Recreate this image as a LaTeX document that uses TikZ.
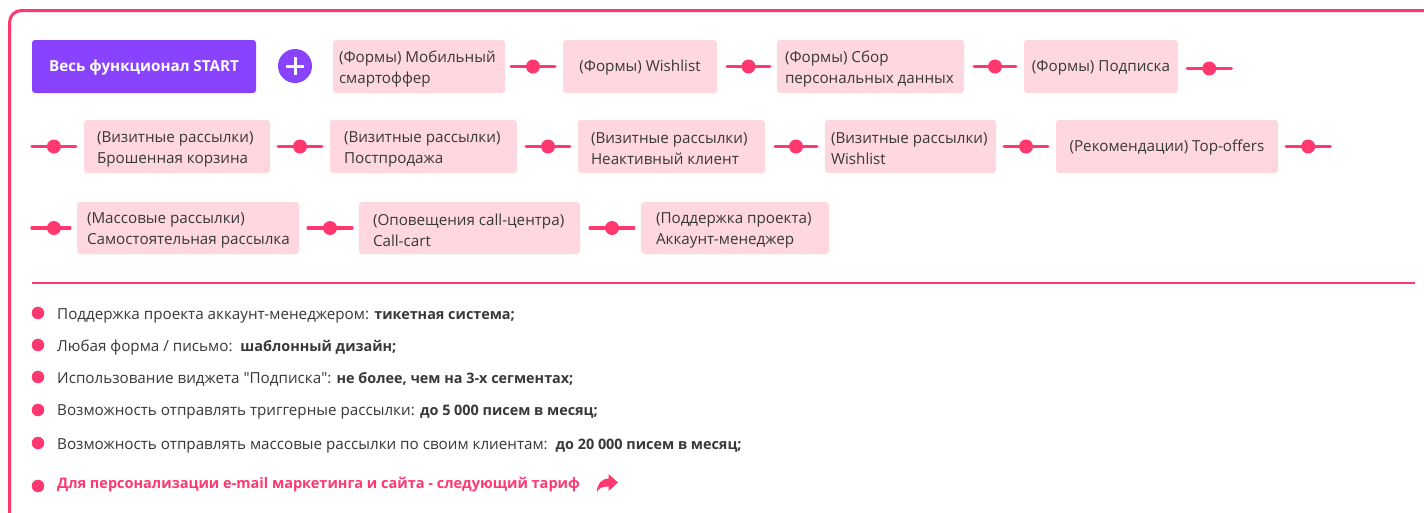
\documentclass[tikz,border=0pt]{standalone}
\usepackage{fontspec}
\setmainfont{Open Sans}
\definecolor{pinkline}{HTML}{FF3870}
\definecolor{boxfill}{HTML}{FFD7E1}
\definecolor{purp}{HTML}{8943FF}
\definecolor{txt}{HTML}{383838}
\newcommand{\bb}[1]{{\fontsize{14.4}{18}\selectfont\bfseries #1}}
\tikzset{
  card/.style={fill=boxfill, rounded corners=3pt, minimum height=53pt, inner sep=0pt},
  cardtext/.style={anchor=west, inner sep=0pt, text=txt, font=\fontsize{15.2}{21}\selectfont, align=left},
  connline/.style={draw=pinkline, line width=3.5pt, line cap=round},
  dotnode/.style={circle, fill=pinkline, minimum size=14pt, inner sep=0pt},
  bul/.style={circle, fill=pinkline, minimum size=12.5pt, inner sep=0pt},
  btext/.style={anchor=west, inner sep=0pt, text=txt, font=\fontsize{15.2}{18}\selectfont},
}
\begin{document}
\begin{tikzpicture}[x=1pt,y=-1pt]
\useasboundingbox (0,0) rectangle (1424,512);
\fill[white] (0,0) rectangle (1424,512);
% frame
\draw[pinkline, line width=3pt, rounded corners=12pt] (9.5,540) |- (1450,10.5);
% row 1
\node[fill=purp, rounded corners=3pt, minimum width=224pt, minimum height=53pt, inner sep=0pt] (start) at (144,66.5) {};
\node[inner sep=0pt, text=white, font=\fontsize{15.2}{18}\selectfont\bfseries] (startt) at ([yshift=-1.5pt]start.center) {Весь функционал START};
\node[circle, fill=purp, minimum size=34pt, inner sep=0pt] (plus) at (295,66) {};
\draw[white, line width=3pt] ([xshift=-9pt]plus.center) -- ([xshift=9pt]plus.center);
\draw[white, line width=3pt] ([yshift=-9pt]plus.center) -- ([yshift=9pt]plus.center);

\node[card, minimum width=172pt] (b1) at (419,66.5) {};
\node[cardtext] (b1t) at ([xshift=6pt,yshift=-2.5pt]b1.west) {(Формы) Мобильный\\смартоффер};
\node[card, minimum width=154pt] (b2) at (640,66.5) {};
\node[cardtext, anchor=center] (b2t) at ([yshift=-1.5pt]b2.center) {(Формы) Wishlist};
\node[card, minimum width=187pt] (b3) at (870.5,66.5) {};
\node[cardtext] (b3t) at ([xshift=8pt,yshift=-2.5pt]b3.west) {(Формы) Сбор\\персональных данных};
\node[card, minimum width=154pt] (b4) at (1101,66.5) {};
\node[cardtext, anchor=center] (b4t) at ([yshift=-1.5pt]b4.center) {(Формы) Подписка};

\draw[connline] ([xshift=6pt]b1.east) -- ([xshift=-8pt]b2.west) node[midway, dotnode] {};
\draw[connline] ([xshift=10pt]b2.east) -- ([xshift=-7pt]b3.west) node[midway, dotnode] {};
\draw[connline] ([xshift=10pt]b3.east) -- ([xshift=-8pt]b4.west) node[midway, dotnode] {};
\coordinate (e1) at ([xshift=53pt,yshift=-2pt]b4.east);
\draw[connline] ([xshift=9pt,yshift=-2pt]b4.east) -- (e1) node[midway, dotnode] {};

% row 2
\node[card, minimum width=186pt] (b5) at (177,146.5) {};
\node[cardtext] (b5t) at ([xshift=13pt,yshift=-2.5pt]b5.west) {(Визитные рассылки)\\Брошенная корзина};
\node[card, minimum width=187pt] (b6) at (423.5,146.5) {};
\node[cardtext] (b6t) at ([xshift=14pt,yshift=-2.5pt]b6.west) {(Визитные рассылки)\\Постпродажа};
\node[card, minimum width=187pt] (b7) at (671.5,146.5) {};
\node[cardtext] (b7t) at ([xshift=13pt,yshift=-2.5pt]b7.west) {(Визитные рассылки)\\Неактивный клиент};
\node[card, minimum width=171pt] (b8) at (910.5,146.5) {};
\node[cardtext] (b8t) at ([xshift=6pt,yshift=-2.5pt]b8.west) {(Визитные рассылки)\\Wishlist};
\node[card, minimum width=222pt] (b9) at (1167,146.5) {};
\node[cardtext, anchor=center] (b9t) at ([yshift=-1.5pt]b9.center) {(Рекомендации) Top-offers};

\coordinate (s2) at (32,146.5);
\draw[connline] (s2) -- ([xshift=-8pt]b5.west) node[midway, dotnode] {};
\draw[connline] ([xshift=8pt]b5.east) -- ([xshift=-8pt]b6.west) node[midway, dotnode] {};
\draw[connline] ([xshift=9pt]b6.east) -- ([xshift=-8pt]b7.west) node[midway, dotnode] {};
\draw[connline] ([xshift=10pt]b7.east) -- ([xshift=-8pt]b8.west) node[midway, dotnode] {};
\draw[connline] ([xshift=8pt]b8.east) -- ([xshift=-8pt]b9.west) node[midway, dotnode] {};
\coordinate (e2) at ([xshift=52pt]b9.east);
\draw[connline] ([xshift=8pt]b9.east) -- (e2) node[midway, dotnode] {};

% row 3
\node[card, minimum width=222pt, minimum height=52pt] (b10) at (188,228) {};
\node[cardtext] (b10t) at ([xshift=10pt,yshift=-2.5pt]b10.west) {(Массовые рассылки)\\Самостоятельная рассылка};
\node[card, minimum width=221pt, minimum height=52pt] (b11) at (469.5,228) {};
\node[cardtext] (b11t) at ([xshift=14pt,yshift=-2.5pt]b11.west) {(Оповещения call-центра)\\Call-cart};
\node[card, minimum width=188pt, minimum height=52pt] (b12) at (735,228) {};
\node[cardtext] (b12t) at ([xshift=15pt,yshift=-2.5pt]b12.west) {(Поддержка проекта)\\Аккаунт-менеджер};

\coordinate (s3) at (32,228);
\draw[connline] (s3) -- ([xshift=-7pt]b10.west) node[pos=0.58, dotnode] {};
\draw[connline] ([xshift=9pt]b10.east) -- ([xshift=-7pt]b11.west) node[midway, dotnode] {};
\draw[connline] ([xshift=10pt]b11.east) -- ([xshift=-7pt]b12.west) node[midway, dotnode] {};

% separator
\draw[pinkline, line width=1.3pt] (32,283) -- (1415,283);

% bullets
\node[bul] (d1) at (38,313) {};
\node[btext] (t1) at (57,315.5) {Поддержка проекта аккаунт-менеджером: \bb{тикетная система;}};
\node[bul] (d2) at (38,345) {};
\node[btext] (t2) at (57,347.5) {Любая форма / письмо:\ \ \bb{шаблонный дизайн;}};
\node[bul] (d3) at (38,377) {};
\node[btext] (t3) at (57,379.5) {Использование виджета \textquotedbl Подписка\textquotedbl: \bb{не более, чем на 3-х сегментах;}};
\node[bul] (d4) at (38,410) {};
\node[btext] (t4) at (57,411.5) {Возможность отправлять триггерные рассылки: \bb{до 5 000 писем в месяц;}};
\node[bul] (d5) at (38,443) {};
\node[btext] (t5) at (57,445.5) {Возможность отправлять массовые рассылки по своим клиентам:\ \ \bb{до 20 000 писем в месяц;}};
\node[bul] (d6) at (38,486) {};
\node[btext, text=pinkline, font=\fontsize{14.5}{18}\selectfont\bfseries] (t6) at (57,485) {Для персонализации e-mail маркетинга и сайта - следующий тариф};
% share arrow icon
\fill[pinkline] (608.5,474) -- (618,482.5) -- (608.5,491) -- (608.5,486.5)
  .. controls (602,486.5) and (599,488) .. (597,492)
  .. controls (597,484) and (601,479) .. (608.5,478.5) -- cycle;
\end{tikzpicture}
\end{document}
